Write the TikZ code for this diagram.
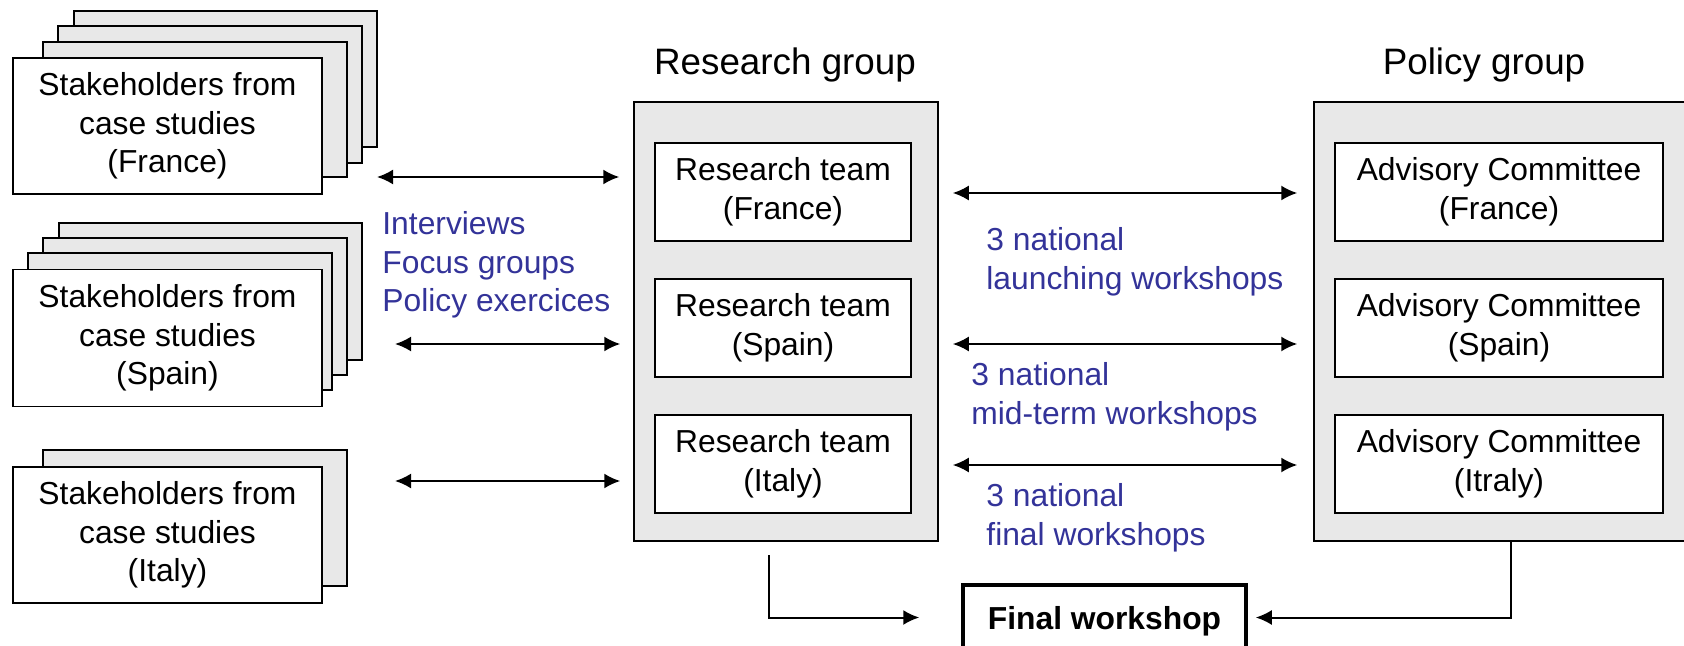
\documentclass[tikz,border=0pt]{standalone}
\usepackage{fontspec}
\setmainfont{Liberation Sans}
\usetikzlibrary{arrows.meta}
\definecolor{labelblue}{RGB}{51,51,153}
\tikzset{
  sheet/.style={draw,fill=black!9,line width=.75pt},
  card/.style={draw,fill=white,line width=.75pt,align=center,inner sep=0pt},
  groupbox/.style={draw,fill=black!9,line width=.75pt},
  note/.style={text=labelblue,align=left,anchor=west,inner sep=0pt},
  link/.style={<->,line width=1pt},
  title/.style={font=\fontsize{18.4}{22}\selectfont}
}
\begin{document}
\begin{tikzpicture}[x=.5pt,y=-.5pt,>={Latex[length=8pt,width=7.5pt]},font=\fontsize{15.9}{19.3}\selectfont]
    \useasboundingbox (0,0) rectangle (1684,646);
    % stakeholder sheets behind the front cards
    \foreach \a/\b/\c/\d in {74/11/377/147,58/26/362/163,43/42/347/177,
        59/223/362/360,43/238/347/375,28/253/332/390,43/450/347/586}
    {
        \draw[sheet] (\a,\b) rectangle (\c,\d);
    }
    \node[card,minimum width=154.5pt,minimum height=68pt] (shfr) at (167.5,126) {Stakeholders from\\case studies\\(France)};
    \node[card,minimum width=154.5pt,minimum height=68.5pt] (shes) at (167.5,338) {Stakeholders from\\case studies\\(Spain)};
    \node[card,minimum width=154.5pt,minimum height=68pt] (shit) at (167.5,535) {Stakeholders from\\case studies\\(Italy)};
    % groups
    \node[title] (rgtitle) at (785,65) {Research group};
    \node[title] (pgtitle) at (1484,65) {Policy group};
    \node[groupbox,minimum width=152pt,minimum height=219.5pt] (rg) at (786,321.5) {};
    \node[groupbox,minimum width=193pt,minimum height=219.5pt] (pg) at (1507,321.5) {};
    \foreach \y/\c/\n in {192/France/fr,328/Spain/es,464/Italy/it}
    {
        \node[card,minimum width=128pt,minimum height=49pt] (rt\n) at (783,\y) {Research team\\(\c)};
    }
    \foreach \y/\c/\n in {192/France/fr,328/Spain/es,464/Itraly/it}
    {
        \node[card,minimum width=164pt,minimum height=49pt] (ac\n) at (1499,\y) {Advisory Committee\\(\c)};
    }
    % exchanges with the stakeholders
    \coordinate (lfr) at (377,177);
    \coordinate (les) at (395,344);
    \coordinate (lit) at (395,481);
    \draw[link,shorten >=7pt] (lfr) -- (lfr -| rg.west);
    \draw[link,shorten >=6.5pt] (les) -- (les -| rg.west);
    \draw[link,shorten >=6.5pt] (lit) -- (lit -| rg.west);
    \node[note] (methods) at (382,265) {Interviews\\Focus groups\\Policy exercices};
    % national workshops
    \foreach \y in {193,344,465}
    {
        \draw[link,shorten <=7pt,shorten >=8pt] (rg.east |- 0,\y) -- (pg.west |- 0,\y);
    }
    \node[note] (wslaunch) at (986,261.5) {3 national\\launching workshops};
    \node[note] (wsmid) at (971,397) {3 national\\mid-term workshops};
    \node[note] (wsfinal) at (986,518) {3 national\\final workshops};
    % final workshop
    \node[draw,line width=1.75pt,minimum width=141.5pt,minimum height=32.5pt,text depth=0pt,font=\bfseries\fontsize{15.9}{19}\selectfont] (fw) at (1104.5,617.5) {Final workshop};
    \coordinate (rgout) at (769,555);
    \draw[->,line width=1pt,shorten >=21pt] (rgout) |- (fw);
    \draw[->,line width=1pt,shorten >=4pt] (pg.south -| 1511,0) |- (fw);
\end{tikzpicture}
\end{document}
